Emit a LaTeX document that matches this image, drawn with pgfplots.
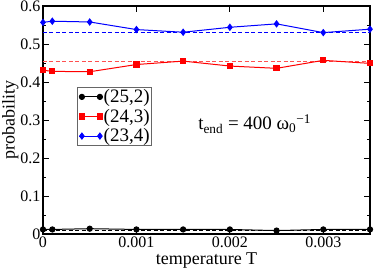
\documentclass[border=0pt]{standalone}
\usepackage{fontspec}
\setmainfont{Liberation Serif}
\usepackage{pgfplots}
\pgfplotsset{compat=1.18}
\begin{document}
\begin{tikzpicture}
\begin{axis}[
  at={(0pt,0pt)}, anchor=south west,
  scale only axis, width=327pt, height=228pt,
  xmin=0, xmax=0.0035, ymin=0, ymax=0.6,
  scaled x ticks=false,
  xtick={0,0.001,0.002,0.003}, xticklabels={0,0.001,0.002,0.003},
  ytick={0,0.1,0.2,0.3,0.4,0.5,0.6}, yticklabels={0,0.1,0.2,0.3,0.4,0.5,0.6},
  minor ytick={0.05,0.15,0.25,0.35,0.45,0.55},
  tick align=inside, major tick length=6pt, minor tick length=3pt,
  tick style={black, line width=0.8pt},
  axis line style={line width=1.2pt},
  ticklabel style={font=\fontsize{16}{17}\selectfont},
  xticklabel style={yshift=1pt},
  yticklabel style={xshift=1pt},
  xlabel={temperature T}, ylabel={probability},
  label style={font=\fontsize{18}{20}\selectfont},
  xlabel style={yshift=2pt},
  ylabel style={yshift=-5pt},
  legend style={at={(0.104,0.645)}, anchor=north west, draw=black!60, line width=0.8pt,
    font=\fontsize{19}{19}\selectfont, inner sep=1pt, row sep=2.5pt,
    legend cell align=left,
    nodes={inner sep=1.2pt}},
  legend image code/.code={
    \path (0pt,0pt) -- (22pt,0pt);
    \draw[#1, mark=none] (3pt,0pt) -- (21pt,0pt);
    \draw[#1, only marks] plot coordinates {(3pt,0pt) (21pt,0pt)};},
]
\addplot[black, dash pattern=on 4pt off 2.5pt, line width=0.8pt, forget plot] coordinates {(0,0.010) (0.0035,0.010)};
\addplot[color={rgb,255:red,255;green,80;blue,80}, dash pattern=on 4pt off 2.5pt, line width=1pt, forget plot] coordinates {(0,0.455) (0.0035,0.455)};
\addplot[blue, dash pattern=on 4pt off 2.5pt, line width=1pt, forget plot] coordinates {(0,0.531) (0.0035,0.531)};
\addplot[black, line width=1pt, mark=*, mark size=2.6pt] coordinates {
(0,0.012) (0.0001,0.012) (0.0005,0.014) (0.001,0.012) (0.0015,0.012) (0.002,0.012) (0.0025,0.009) (0.003,0.012) (0.0035,0.012)};
\addlegendentry{(25,2)}
\addplot[red, line width=1pt, mark=square*, mark size=2.6pt] coordinates {
(0,0.431) (0.0001,0.428) (0.0005,0.427) (0.001,0.446) (0.0015,0.455) (0.002,0.442) (0.0025,0.436) (0.003,0.457) (0.0035,0.449)};
\addlegendentry{(24,3)}
\addplot[blue, line width=1pt, mark=diamond*, mark size=3pt] coordinates {
(0,0.557) (0.0001,0.560) (0.0005,0.558) (0.001,0.538) (0.0015,0.531) (0.002,0.544) (0.0025,0.553) (0.003,0.530) (0.0035,0.539)};
\addlegendentry{(23,4)}
\node[anchor=base west, inner sep=0pt, font=\fontsize{19}{21}\selectfont] at (axis cs:0.00166,0.274)
  {t\textsubscript{end} = 400 ω\textsubscript{0}\textsuperscript{−1}};
\end{axis}
\pgfresetboundingbox
\path[use as bounding box] (-43pt,-35pt) rectangle (331pt,234pt);
\end{tikzpicture}
\end{document}
